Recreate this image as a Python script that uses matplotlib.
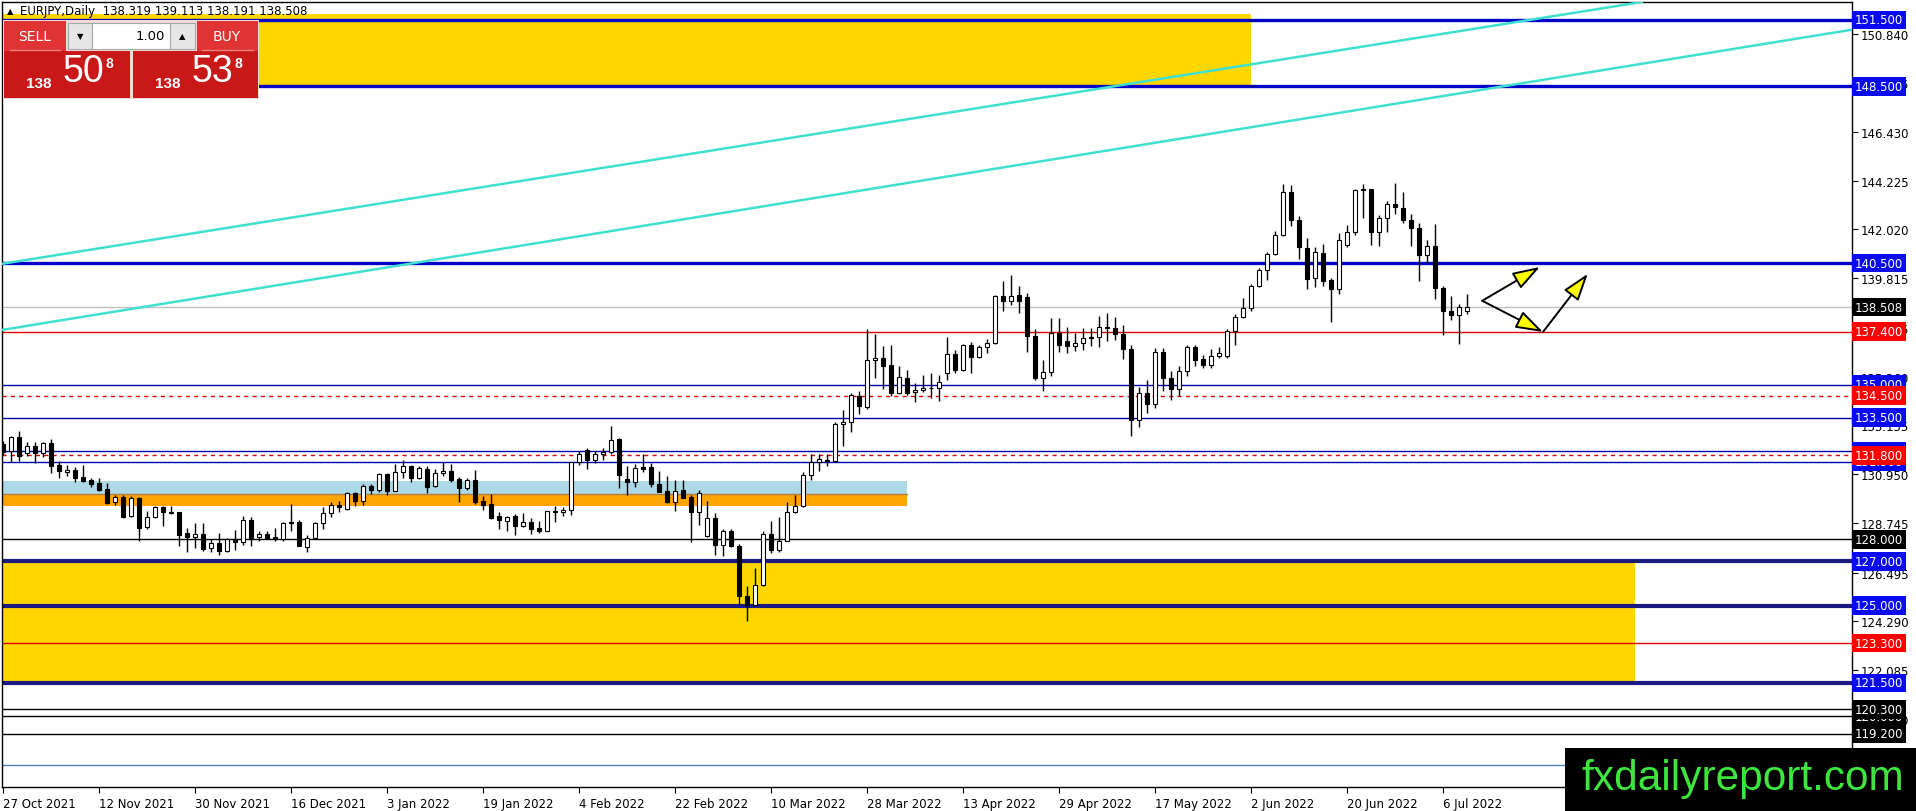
import matplotlib
matplotlib.use("Agg")
import matplotlib.pyplot as plt
import pandas as pd
from matplotlib.patches import Rectangle
from matplotlib import font_manager

# ---- daily bars EURJPY, 27 Oct 2021 .. 11 Jul 2022
opens = [132.31, 131.98, 132.62, 131.89, 132.24, 131.89, 132.36, 131.36, 131.03, 131.15,
         130.81, 130.69, 130.55, 130.28, 129.67, 129.90, 129.04, 129.87, 128.57, 129.00,
         129.45, 129.22, 129.22, 128.27, 128.09, 128.24, 127.61, 127.84, 127.49, 128.02,
         127.86, 128.87, 128.09, 128.24, 128.12, 128.00, 128.77, 128.77, 127.64, 128.05,
         128.72, 129.19, 129.55, 129.37, 130.08, 129.75, 130.40, 130.25, 130.96, 130.20,
         131.03, 131.33, 130.78, 131.18, 130.40, 131.00, 131.11, 130.73, 130.31, 130.69,
         129.75, 129.60, 129.03, 128.84, 129.03, 128.62, 128.77, 128.51, 128.39, 129.27,
         129.22, 129.33, 131.48, 132.06, 131.60, 131.86, 131.97, 132.54, 130.73, 130.58,
         131.29, 131.26, 130.50, 130.17, 129.67, 130.23, 129.90, 129.22, 128.14, 128.95,
         127.76, 128.36, 127.71, 125.45, 125.04, 125.95, 128.24, 127.53, 127.94, 129.25,
         129.50, 130.93, 131.48, 131.60, 131.56, 133.22, 133.29, 134.50, 134.00, 136.12,
         136.21, 135.89, 134.61, 135.29, 134.65, 134.76, 134.85, 134.83, 135.51, 136.39,
         135.68, 136.79, 136.24, 136.69, 136.87, 138.99, 138.77, 139.06, 138.95, 137.19,
         135.29, 135.56, 137.32, 136.96, 136.73, 136.87, 137.13, 137.14, 137.59, 137.55,
         137.30, 136.63, 133.40, 134.60, 134.10, 136.46, 135.30, 134.80, 135.60, 136.70,
         136.16, 135.90, 136.31, 136.31, 137.44, 138.04, 138.48, 139.44, 140.18, 140.91,
         141.75, 143.72, 142.46, 141.18, 139.81, 140.96, 139.73, 139.32, 141.31, 141.90,
         143.79, 143.84, 141.90, 142.54, 143.17, 143.01, 142.46, 142.07, 140.87, 141.25,
         139.36, 138.33, 138.15, 138.319]
highs = [132.46, 132.66, 132.89, 132.39, 132.39, 132.39, 132.54, 131.53, 131.38, 131.26,
         131.36, 130.76, 130.76, 130.55, 130.02, 130.02, 129.95, 129.92, 129.27, 129.52,
         129.49, 129.49, 129.25, 128.50, 128.72, 128.74, 128.02, 128.29, 128.05, 128.42,
         129.04, 128.99, 128.38, 128.39, 128.51, 128.77, 129.60, 128.89, 128.17, 128.77,
         129.48, 129.67, 129.75, 130.13, 130.16, 130.50, 130.50, 131.00, 131.00, 131.41,
         131.59, 131.36, 131.33, 131.33, 131.18, 131.48, 131.41, 130.81, 130.76, 131.14,
         129.95, 130.05, 129.25, 129.07, 129.15, 129.19, 128.97, 128.81, 129.30, 129.49,
         129.45, 131.51, 132.01, 132.12, 132.01, 132.12, 133.14, 132.57, 131.33, 131.41,
         131.86, 131.45, 131.11, 130.85, 130.69, 130.70, 129.98, 130.23, 129.75, 129.19,
         128.47, 128.47, 127.79, 125.90, 126.69, 128.39, 128.81, 128.99, 129.67, 130.00,
         131.03, 131.86, 131.86, 131.86, 133.30, 133.85, 134.61, 134.70, 137.52, 137.29,
         136.76, 136.79, 135.83, 135.66, 135.07, 135.45, 135.51, 135.41, 137.14, 136.58,
         136.84, 136.94, 136.79, 137.04, 139.06, 139.67, 139.96, 139.48, 139.15, 137.52,
         136.11, 138.00, 138.00, 137.59, 137.34, 137.56, 137.56, 138.09, 138.26, 138.04,
         137.70, 136.80, 134.90, 135.20, 136.66, 136.66, 135.60, 135.85, 136.81, 136.78,
         136.34, 136.63, 136.71, 137.52, 138.18, 138.92, 139.54, 140.28, 141.02, 141.95,
         144.06, 144.01, 142.64, 141.62, 141.21, 141.36, 139.81, 141.87, 142.21, 143.84,
         144.06, 143.87, 142.66, 143.30, 144.12, 143.72, 142.73, 142.32, 141.55, 142.27,
         139.44, 139.02, 138.65, 139.113]
lows = [131.79, 131.51, 131.56, 131.76, 131.44, 131.71, 131.00, 130.78, 130.85, 130.61,
        130.58, 130.35, 130.20, 129.60, 129.57, 128.98, 128.99, 127.90, 128.47, 128.97,
        128.62, 129.15, 127.71, 127.44, 127.59, 127.49, 127.44, 127.31, 127.44, 127.53,
        127.76, 127.71, 127.94, 128.02, 127.94, 127.94, 128.39, 127.68, 127.44, 128.02,
        128.47, 129.00, 129.25, 129.33, 129.52, 129.55, 130.05, 130.13, 129.98, 130.17,
        130.78, 130.58, 130.73, 130.10, 130.35, 130.88, 130.58, 129.70, 130.25, 129.60,
        129.34, 128.92, 128.47, 128.39, 128.17, 128.54, 128.24, 128.29, 128.36, 128.80,
        129.07, 129.10, 131.38, 131.18, 131.45, 131.59, 131.86, 130.31, 129.98, 130.38,
        131.06, 130.35, 130.13, 129.64, 129.30, 129.86, 127.86, 128.65, 128.09, 127.29,
        127.23, 127.64, 125.03, 124.32, 125.00, 125.90, 127.37, 127.44, 127.90, 129.19,
        129.46, 130.66, 131.11, 131.33, 131.51, 132.24, 132.87, 133.67, 133.90, 135.29,
        134.80, 134.46, 134.58, 134.53, 134.23, 134.65, 134.38, 134.27, 135.22, 135.51,
        135.63, 135.51, 136.19, 136.42, 136.82, 138.35, 138.62, 138.22, 136.46, 135.22,
        134.73, 135.38, 136.46, 136.43, 136.51, 136.57, 136.76, 136.69, 136.99, 137.00,
        136.16, 132.65, 133.10, 133.70, 133.95, 134.70, 134.30, 134.50, 135.40, 135.82,
        135.75, 135.75, 136.19, 136.22, 136.78, 137.99, 138.33, 139.41, 139.73, 140.88,
        141.73, 142.17, 140.69, 139.32, 139.41, 139.44, 137.81, 139.11, 141.24, 141.75,
        142.54, 141.31, 141.25, 141.90, 142.71, 142.32, 141.25, 139.70, 140.50, 138.88,
        137.22, 137.93, 136.82, 138.191]
closes = [131.97, 132.62, 131.76, 132.24, 131.89, 132.36, 131.33, 131.11, 131.14, 130.78,
          130.64, 130.50, 130.23, 129.63, 129.90, 129.00, 129.87, 128.53, 129.00, 129.45,
          129.22, 129.19, 128.21, 128.12, 128.24, 127.56, 127.82, 127.49, 128.02, 127.86,
          128.87, 128.06, 128.24, 128.06, 128.05, 128.74, 128.72, 127.71, 128.05, 128.74,
          129.18, 129.55, 129.45, 130.08, 129.75, 130.40, 130.25, 130.96, 130.20, 131.03,
          131.30, 130.78, 131.23, 130.38, 131.00, 131.11, 130.70, 130.31, 130.69, 129.70,
          129.55, 128.97, 128.89, 128.99, 128.62, 128.77, 128.47, 128.39, 129.27, 129.22,
          129.33, 131.48, 131.86, 131.60, 131.86, 131.97, 132.49, 130.91, 130.58, 131.21,
          131.18, 130.50, 130.16, 129.67, 130.20, 129.87, 129.22, 130.10, 128.95, 127.76,
          128.36, 127.68, 125.45, 125.04, 125.95, 128.24, 127.53, 127.94, 129.25, 129.50,
          130.93, 131.48, 131.64, 131.56, 133.22, 133.32, 134.53, 134.02, 136.12, 136.21,
          135.86, 134.61, 135.33, 134.62, 134.76, 134.83, 134.83, 135.10, 136.39, 135.68,
          136.79, 136.24, 136.69, 136.87, 138.99, 138.77, 138.99, 138.77, 137.19, 135.29,
          135.56, 137.32, 136.81, 136.73, 136.87, 137.10, 137.11, 137.59, 137.56, 137.30,
          136.63, 133.40, 134.60, 134.10, 136.46, 135.30, 134.80, 135.60, 136.70, 136.12,
          135.90, 136.31, 136.41, 137.44, 138.04, 138.48, 139.47, 140.18, 140.91, 141.75,
          143.72, 142.46, 141.21, 139.76, 141.02, 139.70, 139.32, 141.53, 141.90, 143.79,
          143.84, 141.90, 142.54, 143.17, 143.02, 142.46, 142.07, 140.87, 141.25, 139.36,
          138.33, 138.15, 138.51, 138.508]

dates = pd.bdate_range("2021-10-27", periods=len(closes))
label_every = 12

# right scale ticks (as printed by the terminal)
price_ticks = [150.840, 148.635, 146.430, 144.225, 142.020, 139.815, 137.565, 135.360,
               133.155, 130.950, 128.745, 126.495, 124.290, 122.085, 119.880, 117.675]

# horizontal levels
level_prices = [151.5, 148.5, 140.5, 137.4, 135.0, 134.5, 133.5, 132.0, 131.8, 131.5,
                128.0, 127.0, 125.0, 123.3, 121.5, 120.3, 120.0, 119.2]
level_kinds = ["blue_thick", "blue_thick", "blue_thick", "red", "blue", "red_dash", "blue",
               "blue", "red_dash", "blue", "black", "navy", "navy", "red", "navy",
               "black", "black", "black"]
extra_level = 117.8
bid, ask = 138.508, 138.538

# zones: (first bar, last bar, low, high)
zone_top = (-1, 156, 148.5, 151.77)
zone_bottom = (-1, 204, 121.5, 127.0)
zone_lightblue = (-1, 113, 130.05, 130.63)
zone_orange = (-1, 113, 129.50, 130.05)

# trend lines: two anchor points (bar, price)
trend_upper = [(0, 140.47), (204, 152.26)]
trend_lower = [(0, 137.48), (231, 151.05)]

# projection arrows (bar, price)
arrow_start = (184.9, 138.79)
arrow_tip_up = (192.1, 140.32)
arrow_tip_down = (192.5, 137.38)
arrow_tip_up2 = (198.1, 140.01)

line_style = {
    "blue_thick": ("#0000C8", 2.4, "-", "#0A0AF0"),
    "blue": ("#0000B0", 1.0, "-", "#0A0AF0"),
    "navy": ("#1A1A80", 3.0, "-", "#0A0AF0"),
    "red": ("#E00000", 1.0, "-", "#FF0000"),
    "red_dash": ("#E00000", 1.0, (0, (3, 3)), "#FF0000"),
    "black": ("#000000", 1.0, "-", "#000000"),
}

W, H = 1916, 812
fig = plt.figure(figsize=(W / 100, H / 100), dpi=100)
ax = fig.add_axes([2 / W, 1 - 788 / H, 1850 / W, 785 / H])
ax.set_xlim(-0.125, 231.125)
ax.set_ylim(116.79, 152.31)

# zones
for (x0, x1, lo, hi), col in [(zone_top, "#FFD700"), (zone_bottom, "#FFD700"),
                              (zone_lightblue, "#ADD8E6"), (zone_orange, "#FFA500")]:
    ax.add_patch(Rectangle((x0, lo), x1 - x0, hi - lo, facecolor=col, edgecolor="none", zorder=1))
ax.axhline(zone_orange[3], xmin=0, xmax=(zone_orange[1] + 0.125) / 231.25, color="#B08040", lw=1, zorder=1.1)

# levels
for p, k in zip(level_prices, level_kinds):
    c, lw, ls, _ = line_style[k]
    ax.axhline(p, color=c, lw=lw, ls=ls, zorder=2)
ax.axhline(extra_level, color="#4682B4", lw=1, zorder=2)
ax.axhline(bid, color="#C0C0C0", lw=1, zorder=2)

# trend lines
for pts in (trend_upper, trend_lower):
    ax.axline(pts[0], pts[1], color="#40E0D0", lw=1.8, zorder=3)

# candles
xs = list(range(len(closes)))
ax.vlines(xs, lows, highs, color="black", lw=1, zorder=4)
bottoms = [min(o, c) for o, c in zip(opens, closes)]
heights = [max(abs(c - o), 0.02) for o, c in zip(opens, closes)]
colors = ["white" if c >= o else "black" for o, c in zip(opens, closes)]
ax.bar(xs, heights, bottom=bottoms, width=0.62, color=colors, edgecolor="black", linewidth=0.8, zorder=5)

# arrows
head = dict(arrowstyle="-|>,head_length=1.2,head_width=0.4", fc="yellow", ec="black", lw=1.4,
            shrinkA=0, shrinkB=0, mutation_scale=14)
ax.annotate("", xy=arrow_tip_up, xytext=arrow_start, arrowprops=head, zorder=6)
ax.annotate("", xy=arrow_tip_down, xytext=arrow_start, arrowprops=head, zorder=6)
ax.annotate("", xy=arrow_tip_up2, xytext=arrow_tip_down, arrowprops=head, zorder=6)

# axes look
for s in ax.spines.values():
    s.set_color("black")
    s.set_linewidth(1)
ax.yaxis.tick_right()
ax.set_yticks(price_ticks)
ax.set_yticklabels([f"{v:.3f}" for v in price_ticks])
ax.tick_params(axis="y", direction="out", length=4, pad=2, labelsize=8.5, colors="black")
tick_idx = xs[::label_every]
ax.set_xticks(tick_idx)
ax.set_xticklabels([f"{dates[i].day} {dates[i]:%b %Y}" for i in tick_idx])
ax.tick_params(axis="x", direction="out", length=4, pad=3, labelsize=8.5)
for lbl in ax.get_xticklabels():
    lbl.set_horizontalalignment("left")

# level labels on the price scale
ytr = ax.get_yaxis_transform()
for p, k in zip(level_prices, level_kinds):
    bg = line_style[k][3]
    z = 10 + (1 if k.startswith("red") else 0) + p / 1000
    ax.text(1.0 + 3 / 1850, p, f"{p:.3f}", transform=ytr, ha="left", va="center", fontsize=8.5,
            color="white", clip_on=False, zorder=z,
            bbox=dict(boxstyle="square,pad=0.24", fc=bg, ec="none"))
ax.text(1.0 + 3 / 1850, bid, f"{bid:.3f}", transform=ytr, ha="left", va="center", fontsize=8.5,
        color="white", clip_on=False, zorder=12,
        bbox=dict(boxstyle="square,pad=0.24", fc="black", ec="none"))

# overlay in pixel coordinates: header, trade panel, watermark
ov = fig.add_axes([0, 0, 1, 1], zorder=20)
ov.set_xlim(0, W)
ov.set_ylim(H, 0)
ov.axis("off")
ov.patch.set_alpha(0)

ov.text(7, 12, "\u25B2", fontsize=6, va="center", ha="left")
ov.text(20, 12, f"EURJPY,Daily  {opens[-1]:.3f} {highs[-1]:.3f} {lows[-1]:.3f} {closes[-1]:.3f}",
        fontsize=8.5, va="center", ha="left")

names = {f.name for f in font_manager.fontManager.ttflist}
narrow = "Liberation Sans Narrow" if "Liberation Sans Narrow" in names else "Liberation Sans"

ov.add_patch(Rectangle((3, 21), 256, 79, fc="#F4DADA", ec="none"))
ov.add_patch(Rectangle((4, 22), 62, 30, fc="#E03434", ec="none"))
ov.add_patch(Rectangle((197, 22), 61, 30, fc="#E03434", ec="none"))
ov.plot([10, 60], [51, 51], color="#F08080", lw=1)
ov.plot([202, 253], [51, 51], color="#F08080", lw=1)
ov.add_patch(Rectangle((68, 24), 24, 26, fc="#E6E6E6", ec="#A8A8A8", lw=0.8))
ov.add_patch(Rectangle((92, 24), 78, 26, fc="white", ec="#A8A8A8", lw=0.8))
ov.add_patch(Rectangle((170, 24), 25, 26, fc="#E6E6E6", ec="#A8A8A8", lw=0.8))
ov.text(35, 37, "SELL", color="white", fontsize=10, ha="center", va="center")
ov.text(227, 37, "BUY", color="white", fontsize=10, ha="center", va="center")
ov.text(80, 37, "\u25BC", fontsize=6, ha="center", va="center")
ov.text(182, 37, "\u25B2", fontsize=6, ha="center", va="center")
ov.text(165, 37, "1.00", fontsize=9.5, ha="right", va="center")
ov.add_patch(Rectangle((4, 52), 126, 47, fc="#C81818", ec="none"))
ov.add_patch(Rectangle((133, 52), 125, 47, fc="#C81818", ec="none"))
for x0, price in [(4, bid), (133, ask)]:
    s = f"{price:.3f}"
    big, pips, frac = s[:3], s[4:6], s[6]
    ov.text(x0 + 22, 84, big, color="white", fontsize=11, fontweight="bold", ha="left", va="center",
            family="Liberation Sans")
    ov.text(x0 + 79, 72, pips, color="white", fontsize=27, ha="center", va="center", family=narrow)
    ov.text(x0 + 102, 64, frac, color="white", fontsize=10, fontweight="bold", ha="left", va="center",
            family="Liberation Sans")

ov.add_patch(Rectangle((1565, 749), W - 1565, H - 749, fc="black", ec="none"))
ov.text(1581, 779, "fxdailyreport.com", color="#3CE63C", fontsize=30.5, ha="left", va="center",
        family="Liberation Sans")

fig.savefig("out.png", dpi=100, facecolor="white")
